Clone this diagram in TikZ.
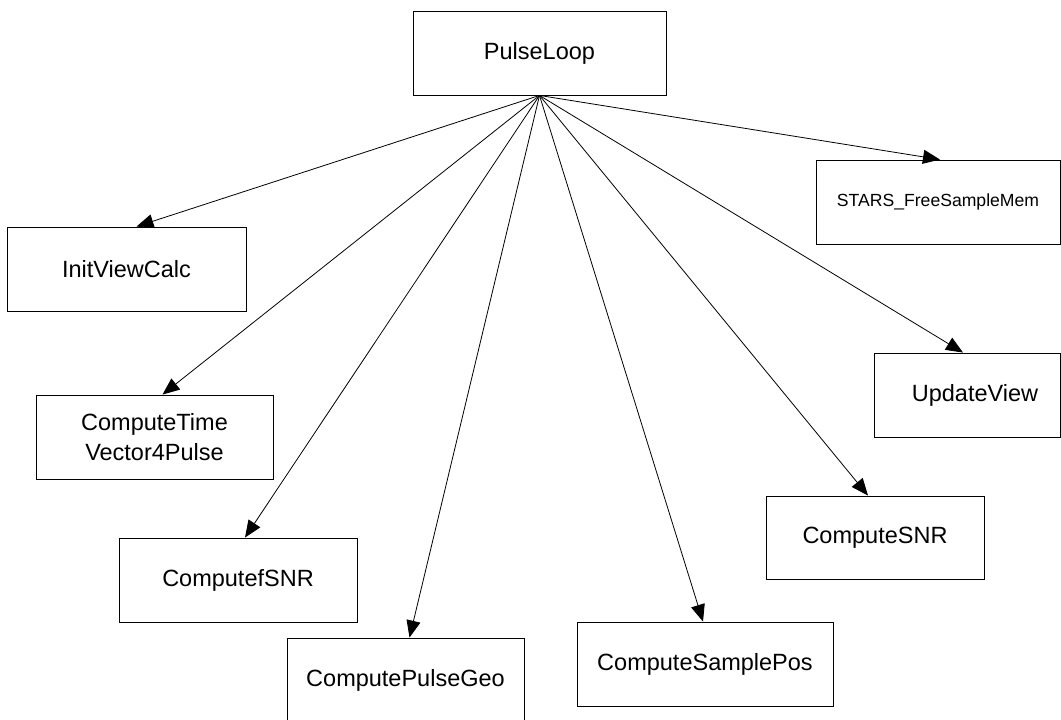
\documentclass[tikz,border=0pt]{standalone}
\usepackage{fontspec}
\setmainfont{Liberation Sans}
\usetikzlibrary{arrows.meta}

\tikzset{
  fn/.style={draw=black, line width=0.9pt, inner sep=0pt, align=center,
             minimum height=84pt, font=\fontsize{23.5}{30}\selectfont},
  call/.style={line width=0.8pt, -{Triangle[length=17pt,width=14pt]}}
}

\begin{document}
\begin{tikzpicture}[x=1pt, y=-1pt]
  \useasboundingbox (0,0) rectangle (1061,720);

  % caller
  \node[fn, minimum width=253pt] (pulse) at (539.5,53) {PulseLoop};

  % callees
  \node[fn, minimum width=244pt, font=\fontsize{17.6}{22}\selectfont] (stars) at (938,202) {STARS\_FreeSampleMem};
  \node[fn, minimum width=239pt] (init)   at (126.5,269) {InitViewCalc};
  \node[fn, minimum width=186pt] (update) at (967,395)   {\hspace*{16pt}UpdateView};
  \node[fn, minimum width=237pt] (ctime)  at (154.5,437) {ComputeTime\\Vector4Pulse};
  \node[fn, minimum width=218pt, minimum height=83pt] (snr) at (875,537.5) {ComputeSNR};
  \node[fn, minimum width=238pt] (fsnr)   at (238,580)   {ComputefSNR};
  \node[fn, minimum width=237pt] (geo)    at (405.5,680) {ComputePulseGeo};
  \node[fn, minimum width=256pt] (samp)   at (705,664)   {ComputeSamplePos};

  % call edges
  \draw[call] (pulse.south) -- ([xshift=10pt]init.north);
  \draw[call] (pulse.south) -- ([xshift=8pt]ctime.north);
  \draw[call] (pulse.south) -- ([xshift=7pt]fsnr.north);
  \draw[call] (pulse.south) -- ([xshift=4pt]geo.north);
  \draw[call] (pulse.south) -- ([xshift=-2pt]samp.north);
  \draw[call] (pulse.south) -- ([xshift=-7pt]snr.north);
  \draw[call] (pulse.south) -- ([xshift=-4pt]update.north);
  \draw[call] (pulse.south) -- ([xshift=2pt]stars.north);
\end{tikzpicture}
\end{document}
